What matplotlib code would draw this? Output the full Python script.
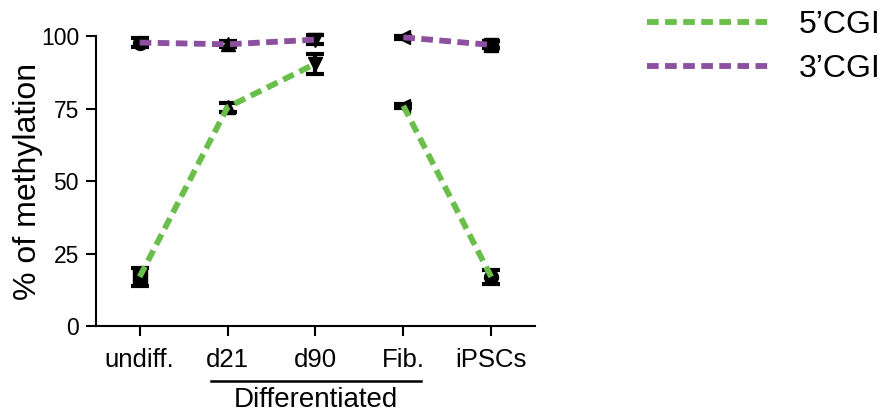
import numpy as np
import matplotlib.pyplot as plt
from matplotlib.lines import Line2D

plt.rcParams['font.family'] = ['Liberation Sans', 'DejaVu Sans']

# data
categories = ['undiff.', 'd21', 'd90', 'Fib.', 'iPSCs']
cgi5_mean = [17, 75.5, 90.5, 76, 17]
cgi5_err = [3, 1.5, 3.5, 0.6, 2.5]
cgi3_mean = [97.8, 97.2, 98.8, 99.6, 97.0]
cgi3_err = [1.5, 1.0, 1.5, 0.6, 1.2]
groups = [[0, 1, 2], [3, 4]]   # line segments (break between d90 and Fib.)

green = '#6abf4b'
purple = '#8d4fa0'
markers5 = ['s', '^', 'v', '<', 'o']
markers3 = ['o', '^', 'v', '<', 's']
dash = (2.0, 1.1)

fig = plt.figure(figsize=(8.86, 4.16), dpi=100)
ax = fig.add_axes([0.108, 0.216, 0.496, 0.697])

x = np.arange(len(categories))

# black markers with error bars
for means, errs, mk in [(cgi5_mean, cgi5_err, markers5), (cgi3_mean, cgi3_err, markers3)]:
    ax.errorbar(x, means, yerr=errs, fmt='none', ecolor='black',
                capsize=6.5, capthick=3, elinewidth=3, zorder=2, clip_on=False)
    for i in range(len(categories)):
        ax.plot(x[i], means[i], marker=mk[i], color='black', markersize=10,
                linestyle='none', zorder=2, clip_on=False)

# dashed lines on top
for g in groups:
    ax.plot(x[g], [cgi5_mean[i] for i in g], color=green, lw=4.2,
            dashes=dash, zorder=3, clip_on=False)
    ax.plot(x[g], [cgi3_mean[i] for i in g], color=purple, lw=4.2,
            dashes=dash, zorder=3, clip_on=False)

ax.set_xlim(-0.5, 4.5)
ax.set_ylim(0, 100)
ax.set_yticks([0, 25, 50, 75, 100])
ax.set_xticks(x)
ax.set_xticklabels(categories)
ax.tick_params(axis='both', width=1.5, length=7.5, color='black')
ax.tick_params(axis='y', labelsize=16.5, pad=4.5)
ax.tick_params(axis='x', labelsize=18.5, pad=8.5)
ax.spines['top'].set_visible(False)
ax.spines['right'].set_visible(False)
ax.spines['left'].set_linewidth(1.5)
ax.spines['bottom'].set_linewidth(1.5)
ax.set_ylabel('% of methylation', fontsize=23)
ax.yaxis.set_label_coords(-0.12, 0.5)

# "Differentiated" group bracket
trans = ax.get_xaxis_transform()
ax.plot([0.81, 3.2], [-0.19, -0.19], color='black', lw=1.8,
        transform=trans, clip_on=False)
ax.text(2.0, -0.255, 'Differentiated', transform=trans, ha='center', va='center',
        fontsize=20)

# legend
handles = [Line2D([0], [0], color=green, lw=4.2, dashes=dash),
           Line2D([0], [0], color=purple, lw=4.2, dashes=dash)]
fig.legend(handles, ['5\u2019CGI', '3\u2019CGI'], loc='upper left',
           bbox_to_anchor=(0.698, 1.045), frameon=False, fontsize=23,
           handlelength=3.8, handletextpad=0.95, labelspacing=0.45)

fig.savefig('out.png', dpi=100)
